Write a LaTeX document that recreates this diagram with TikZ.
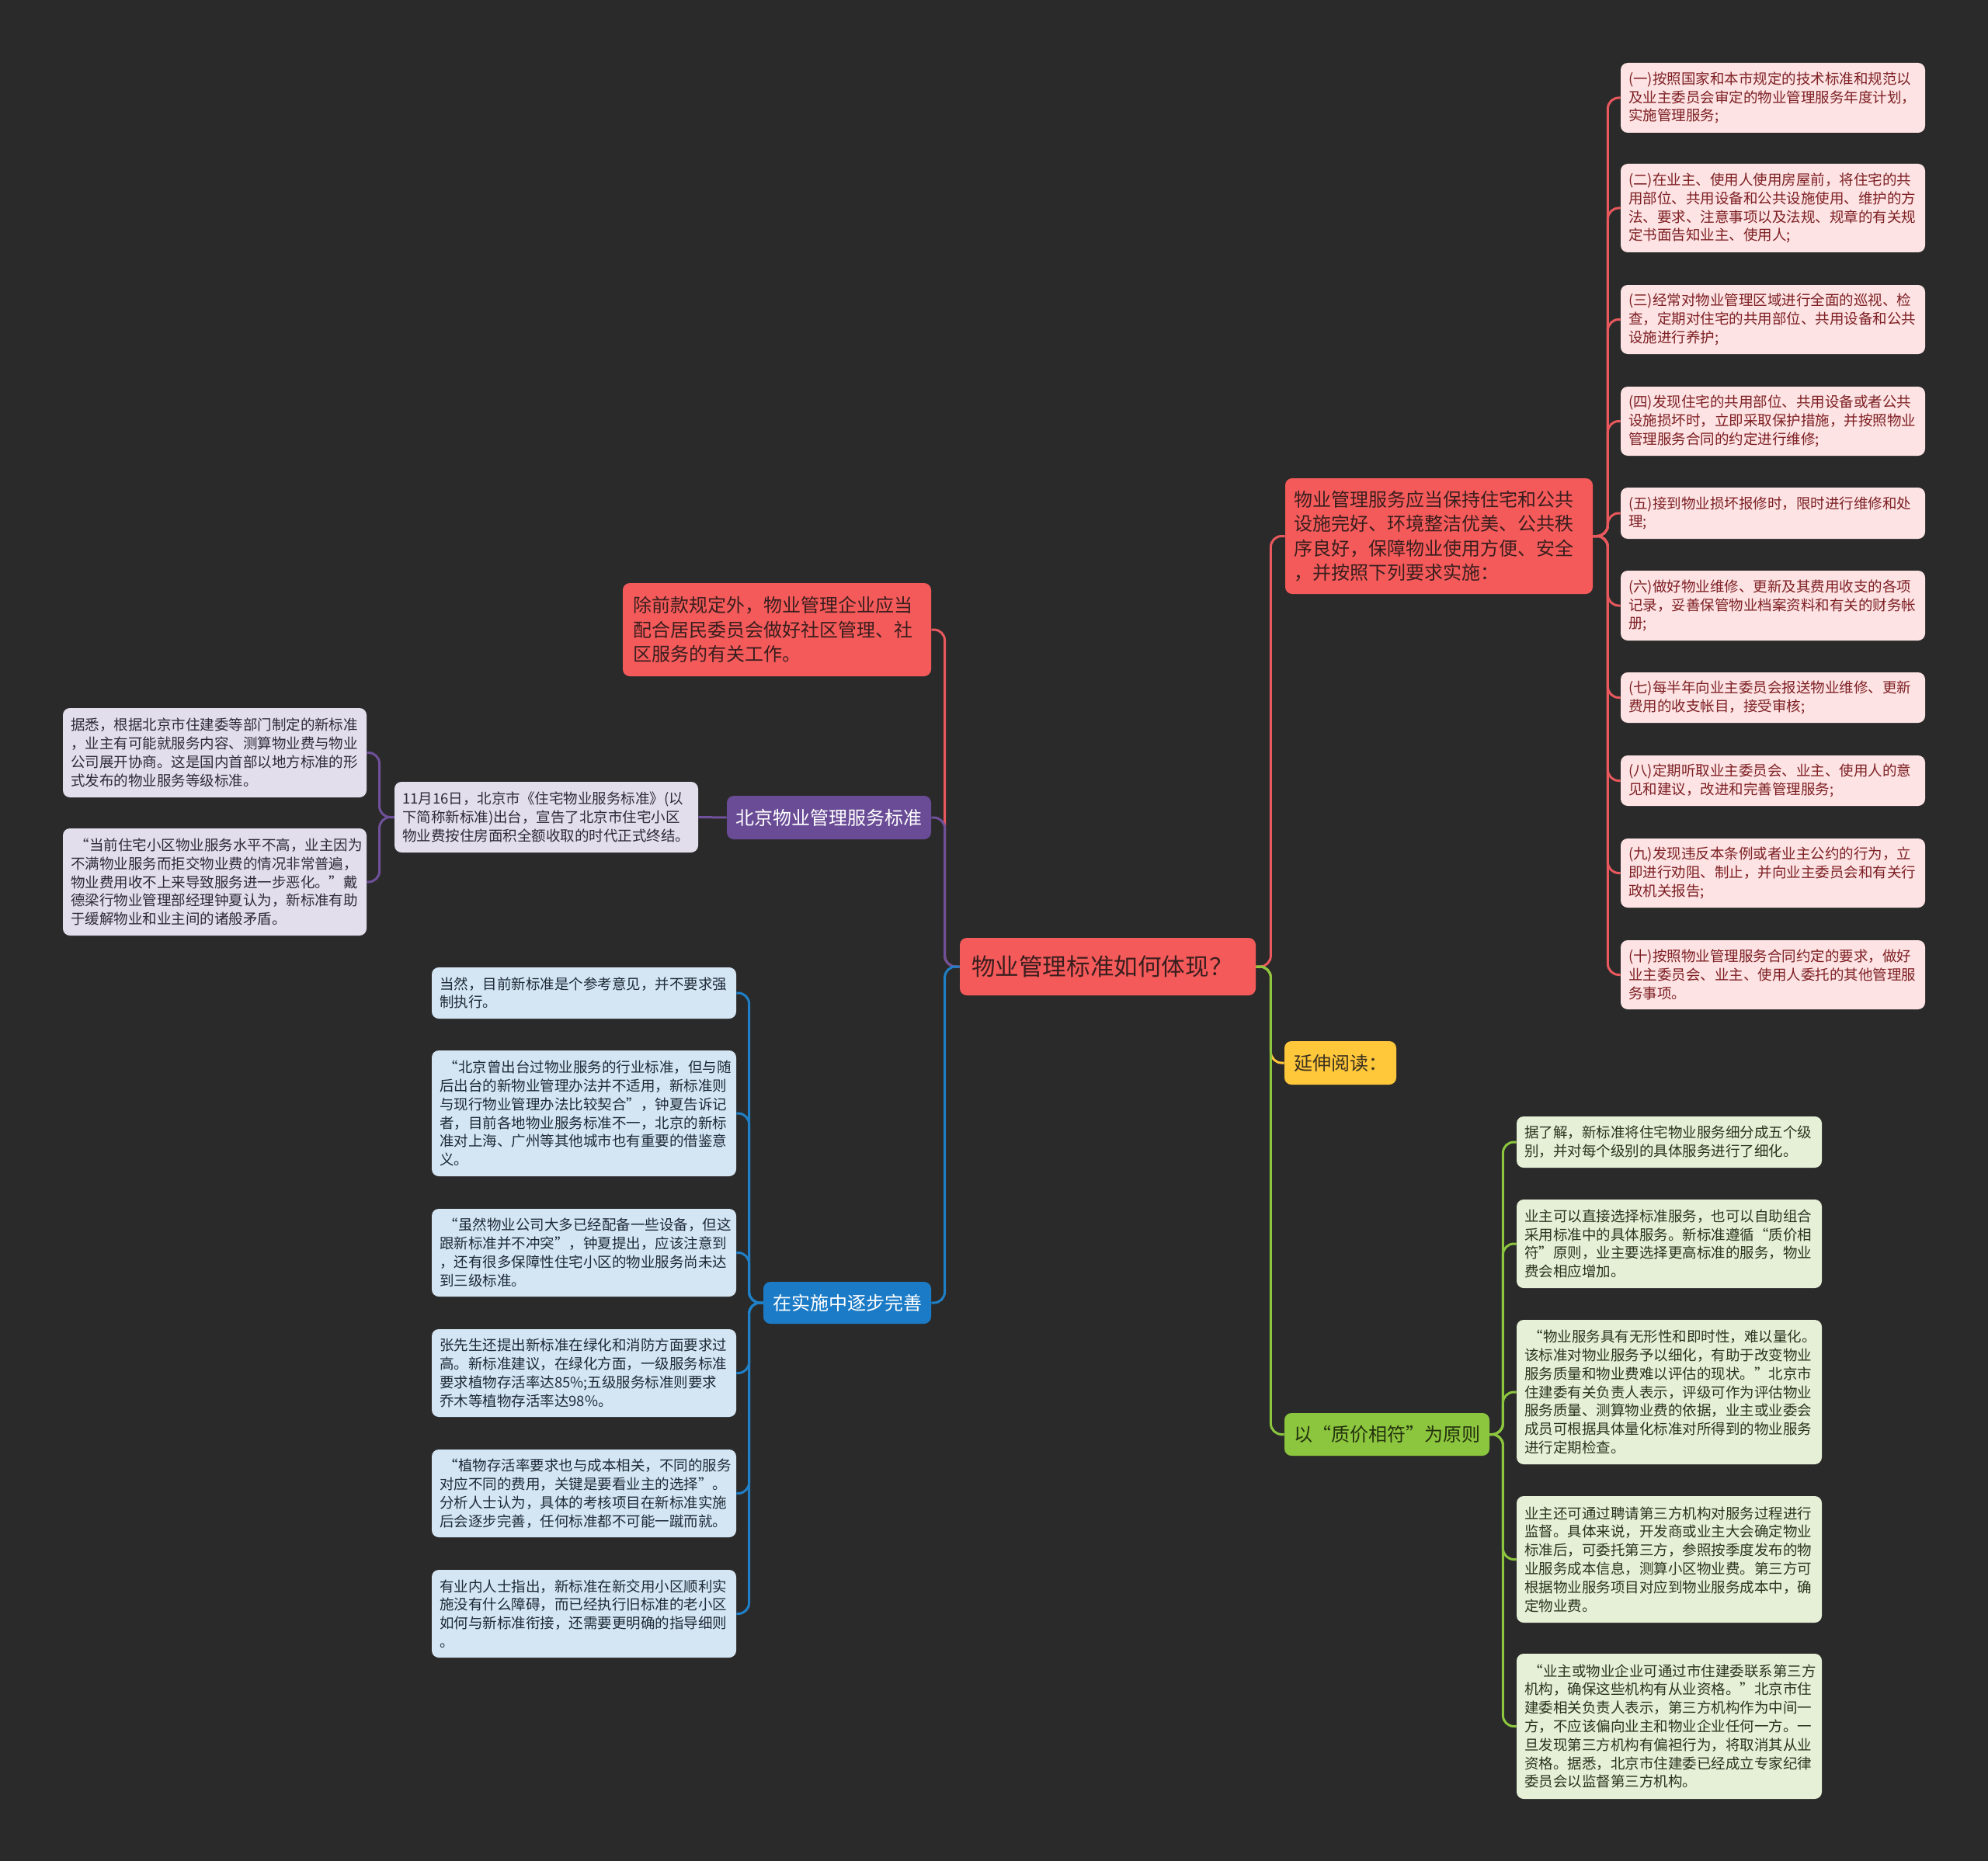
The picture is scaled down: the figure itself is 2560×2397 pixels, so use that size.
\documentclass[tikz,border=0pt]{standalone}
\usepackage{fontspec}
\setmainfont{Noto Sans CJK SC}
\definecolor{bgc}{HTML}{2A2A2A}
\definecolor{redM}{HTML}{F55A5A}
\definecolor{redT}{HTML}{3A1E1E}
\definecolor{redL}{HTML}{FDE3E3}
\definecolor{redLT}{HTML}{7D1F24}
\definecolor{redLine}{HTML}{E8585C}
\definecolor{purM}{HTML}{6A4C96}
\definecolor{purL}{HTML}{E2DEEC}
\definecolor{purLT}{HTML}{2E2A38}
\definecolor{purLine}{HTML}{6F509A}
\definecolor{bluM}{HTML}{1B7BC6}
\definecolor{bluL}{HTML}{D4E6F4}
\definecolor{bluLT}{HTML}{1E2A36}
\definecolor{bluLine}{HTML}{1F80C8}
\definecolor{yelM}{HTML}{FFC73A}
\definecolor{yelT}{HTML}{3A3020}
\definecolor{grnM}{HTML}{8CC63E}
\definecolor{grnT}{HTML}{24320E}
\definecolor{grnL}{HTML}{E5F0D6}
\definecolor{grnLT}{HTML}{2B3320}
\newcommand\leaffont{\fontsize{9.25pt}{11.9pt}\selectfont}
\newcommand\bigfont{\fontsize{12pt}{15.75pt}\selectfont}
\newcommand\rootfont{\fontsize{15.3pt}{18pt}\selectfont}
\tikzset{
 con/.style={line width=1.5pt, rounded corners=7pt},
 base/.style={rounded corners=4.5pt, align=left, anchor=center, inner ysep=1pt},
 leafR/.style={base, inner xsep=5pt, text width=186pt, font=\leaffont, fill=redL, text=redLT},
 leafP/.style={base, inner xsep=5pt, text width=185.5pt, font=\leaffont, fill=purL, text=purLT},
 leafB/.style={base, inner xsep=5pt, text width=186pt, font=\leaffont, fill=bluL, text=bluLT},
 leafG/.style={base, inner xsep=5pt, text width=186.5pt, font=\leaffont, fill=grnL, text=grnLT},
 mainR/.style={base, font=\bigfont, fill=redM, text=redT},
}
\begin{document}
\begin{tikzpicture}[x=0.5pt,y=-0.5pt]
\fill[bgc] (0,0) rectangle (2560,2397);
\useasboundingbox (0,0) rectangle (2560,2397);

% root
\node[base, font=\rootfont, fill=redM, text=redT, inner xsep=7.5pt, text width=175.5pt, minimum height=37pt] (c) at (1426.5,1245) {物业管理标准如何体现？};

% right main red
\node[mainR, inner xsep=5.5pt, text width=187pt, minimum height=74.5pt] (r1) at (1853,690.5) {物业管理服务应当保持住宅和公共\\设施完好、环境整洁优美、公共秩\\序良好，保障物业使用方便、安全\\，并按照下列要求实施：};

% red leaves
\node[leafR, minimum height=45pt] (l1) at (2283,126) {(一)按照国家和本市规定的技术标准和规范以\\及业主委员会审定的物业管理服务年度计划，\\实施管理服务;};
\node[leafR, minimum height=57pt] (l2) at (2283,268) {(二)在业主、使用人使用房屋前，将住宅的共\\用部位、共用设备和公共设施使用、维护的方\\法、要求、注意事项以及法规、规章的有关规\\定书面告知业主、使用人;};
\node[leafR, minimum height=44.5pt] (l3) at (2283,411.5) {(三)经常对物业管理区域进行全面的巡视、检\\查，定期对住宅的共用部位、共用设备和公共\\设施进行养护;};
\node[leafR, minimum height=44.5pt] (l4) at (2283,542.5) {(四)发现住宅的共用部位、共用设备或者公共\\设施损坏时，立即采取保护措施，并按照物业\\管理服务合同的约定进行维修;};
\node[leafR, minimum height=33pt] (l5) at (2283,661) {(五)接到物业损坏报修时，限时进行维修和处\\理;};
\node[leafR, minimum height=45pt] (l6) at (2283,780) {(六)做好物业维修、更新及其费用收支的各项\\记录，妥善保管物业档案资料和有关的财务帐\\册;};
\node[leafR, minimum height=32.5pt] (l7) at (2283,898.5) {(七)每半年向业主委员会报送物业维修、更新\\费用的收支帐目，接受审核;};
\node[leafR, minimum height=32.5pt] (l8) at (2283,1005.5) {(八)定期听取业主委员会、业主、使用人的意\\见和建议，改进和完善管理服务;};
\node[leafR, minimum height=44.5pt] (l9) at (2283,1124.5) {(九)发现违反本条例或者业主公约的行为，立\\即进行劝阻、制止，并向业主委员会和有关行\\政机关报告;};
\node[leafR, minimum height=44.5pt] (l10) at (2283,1255.5) {(十)按照物业管理服务合同约定的要求，做好\\业主委员会、业主、使用人委托的其他管理服\\务事项。};

% yellow
\node[base, font=\bigfont, fill=yelM, text=yelT, inner xsep=6pt, text width=60pt, minimum height=28pt] (y) at (1726,1369) {延伸阅读：};

% green
\node[base, font=\bigfont, fill=grnM, text=grnT, inner xsep=6pt, text width=120pt, minimum height=27.5pt] (g) at (1786,1847.5) {以“质价相符”为原则};
\node[leafG, minimum height=33pt] (g1) at (2149.5,1471) {据了解，新标准将住宅物业服务细分成五个级\\别，并对每个级别的具体服务进行了细化。};
\node[leafG, minimum height=57pt] (g2) at (2149.5,1602) {业主可以直接选择标准服务，也可以自助组合\\采用标准中的具体服务。新标准遵循“质价相\\符”原则，业主要选择更高标准的服务，物业\\费会相应增加。};
\node[leafG, minimum height=93pt] (g3) at (2149.5,1793) {\hspace*{0.3em}“物业服务具有无形性和即时性，难以量化。\\该标准对物业服务予以细化，有助于改变物业\\服务质量和物业费难以评估的现状。”北京市\\住建委有关负责人表示，评级可作为评估物业\\服务质量、测算物业费的依据，业主或业委会\\成员可根据具体量化标准对所得到的物业服务\\进行定期检查。};
\node[leafG, minimum height=81.5pt] (g4) at (2149.5,2008.5) {业主还可通过聘请第三方机构对服务过程进行\\监督。具体来说，开发商或业主大会确定物业\\标准后，可委托第三方，参照按季度发布的物\\业服务成本信息，测算小区物业费。第三方可\\根据物业服务项目对应到物业服务成本中，确\\定物业费。};
\node[leafG, minimum height=93.5pt] (g5) at (2149.5,2223.5) {\hspace*{0.3em}“业主或物业企业可通过市住建委联系第三方\\机构，确保这些机构有从业资格。”北京市住\\建委相关负责人表示，第三方机构作为中间一\\方，不应该偏向业主和物业企业任何一方。一\\旦发现第三方机构有偏袒行为，将取消其从业\\资格。据悉，北京市住建委已经成立专家纪律\\委员会以监督第三方机构。};

% left red
\node[mainR, inner xsep=6.5pt, text width=185.5pt, minimum height=60pt] (r2) at (1000.5,811) {除前款规定外，物业管理企业应当\\配合居民委员会做好社区管理、社\\区服务的有关工作。};

% purple
\node[base, font=\bigfont, fill=purM, text=white, inner xsep=5.75pt, text width=120pt, minimum height=28pt] (p) at (1067.5,1053) {北京物业管理服务标准};
\node[leafP, minimum height=45.5pt] (pl) at (703.5,1052.5) {11月16日，北京市《住宅物业服务标准》(以\\下简称新标准)出台，宣告了北京市住宅小区\\物业费按住房面积全额收取的时代正式终结。};
\node[leafP, minimum height=57.5pt] (pl1) at (276.5,969.5) {据悉，根据北京市住建委等部门制定的新标准\\，业主有可能就服务内容、测算物业费与物业\\公司展开协商。这是国内首部以地方标准的形\\式发布的物业服务等级标准。};
\node[leafP, minimum height=69pt] (pl2) at (276.5,1136) {\hspace*{0.3em}“当前住宅小区物业服务水平不高，业主因为\\不满物业服务而拒交物业费的情况非常普遍，\\物业费用收不上来导致服务进一步恶化。”戴\\德梁行物业管理部经理钟夏认为，新标准有助\\于缓解物业和业主间的诸般矛盾。};

% blue
\node[base, font=\bigfont, fill=bluM, text=white, inner xsep=6pt, text width=96pt, minimum height=27pt] (b) at (1091,1678) {在实施中逐步完善};
\node[leafB, minimum height=33pt] (b1) at (752,1279) {当然，目前新标准是个参考意见，并不要求强\\制执行。};
\node[leafB, minimum height=81pt] (b2) at (752,1434) {\hspace*{0.3em}“北京曾出台过物业服务的行业标准，但与随\\后出台的新物业管理办法并不适用，新标准则\\与现行物业管理办法比较契合”，钟夏告诉记\\者，目前各地物业服务标准不一，北京的新标\\准对上海、广州等其他城市也有重要的借鉴意\\义。};
\node[leafB, minimum height=56.5pt] (b3) at (752,1613.5) {\hspace*{0.3em}“虽然物业公司大多已经配备一些设备，但这\\跟新标准并不冲突”，钟夏提出，应该注意到\\，还有很多保障性住宅小区的物业服务尚未达\\到三级标准。};
\node[leafB, minimum height=56.5pt] (b4) at (752,1768.5) {张先生还提出新标准在绿化和消防方面要求过\\高。新标准建议，在绿化方面，一级服务标准\\要求植物存活率达85\%;五级服务标准则要求\\乔木等植物存活率达98\%。};
\node[leafB, minimum height=56.5pt] (b5) at (752,1923.5) {\hspace*{0.3em}“植物存活率要求也与成本相关，不同的服务\\对应不同的费用，关键是要看业主的选择”。\\分析人士认为，具体的考核项目在新标准实施\\后会逐步完善，任何标准都不可能一蹴而就。};
\node[leafB, minimum height=56.5pt] (b6) at (752,2078.5) {有业内人士指出，新标准在新交用小区顺利实\\施没有什么障碍，而已经执行旧标准的老小区\\如何与新标准衔接，还需要更明确的指导细则\\。};

% connectors: left
\draw[con, redLine] (c.west) -- ++(-19,0) |- (r2.east);
\draw[con, purLine] (c.west) -- ++(-19,0) |- (p.east);
\draw[con, bluLine] (c.west) -- ++(-19,0) |- (b.east);
\draw[con, purLine] (p.west) -- (pl.east);
\foreach \n in {pl1,pl2} \draw[con, purLine] (pl.west) -- ++(-19,0) |- (\n.east);
\foreach \n in {b1,b2,b3,b4,b5,b6} \draw[con, bluLine] (b.west) -- ++(-18,0) |- (\n.east);
% connectors: right
\draw[con, redLine] (c.east) -- ++(19,0) |- (r1.west);
\draw[con, yelM] (c.east) -- ++(19,0) |- (y.west);
\draw[con, grnM] (c.east) -- ++(19,0) |- (g.west);
\foreach \n in {l1,l2,l3,l4,l5,l6,l7,l8,l9,l10} \draw[con, redLine] (r1.east) -- ++(19,0) |- (\n.west);
\foreach \n in {g1,g2,g3,g4,g5} \draw[con, grnM] (g.east) -- ++(17,0) |- (\n.west);
\end{tikzpicture}
\end{document}
